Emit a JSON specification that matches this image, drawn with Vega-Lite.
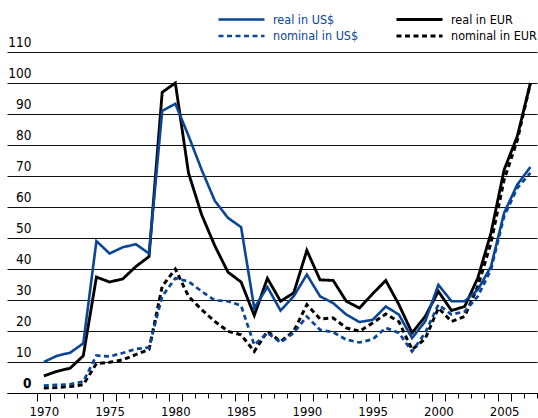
{
  "$schema": "https://vega.github.io/schema/vega-lite/v6.json",
  "width": 530,
  "height": 341,
  "autosize": {"type": "none"},
  "padding": {"left": 7, "top": 52, "right": 1, "bottom": 25},
  "background": "white",
  "config": {"view": {"stroke": null}, "font": "DejaVu Sans Condensed"},
  "data": {"values": [
    {"year":1970,"realUSD":10,"realEUR":5.5,"nomUSD":2.4,"nomEUR":1.6},
    {"year":1971,"realUSD":12,"realEUR":7,"nomUSD":2.6,"nomEUR":1.8},
    {"year":1972,"realUSD":13,"realEUR":8,"nomUSD":2.8,"nomEUR":2.1},
    {"year":1973,"realUSD":16,"realEUR":12,"nomUSD":3.7,"nomEUR":2.7},
    {"year":1974,"realUSD":49,"realEUR":37.4,"nomUSD":12.1,"nomEUR":9.5},
    {"year":1975,"realUSD":45,"realEUR":35.8,"nomUSD":11.8,"nomEUR":9.9},
    {"year":1976,"realUSD":47,"realEUR":36.8,"nomUSD":12.9,"nomEUR":10.7},
    {"year":1977,"realUSD":48,"realEUR":40.8,"nomUSD":14.2,"nomEUR":12.4},
    {"year":1978,"realUSD":45,"realEUR":44,"nomUSD":14.7,"nomEUR":14},
    {"year":1979,"realUSD":91,"realEUR":97,"nomUSD":31.2,"nomEUR":34.4},
    {"year":1980,"realUSD":93.3,"realEUR":100,"nomUSD":37,"nomEUR":40},
    {"year":1981,"realUSD":83,"realEUR":71,"nomUSD":36,"nomEUR":31.2},
    {"year":1982,"realUSD":72,"realEUR":57.5,"nomUSD":32.8,"nomEUR":26.9},
    {"year":1983,"realUSD":62,"realEUR":47.5,"nomUSD":29.9,"nomEUR":23.1},
    {"year":1984,"realUSD":56.5,"realEUR":39,"nomUSD":29.6,"nomEUR":19.9},
    {"year":1985,"realUSD":53.5,"realEUR":35.8,"nomUSD":28.2,"nomEUR":18.8},
    {"year":1986,"realUSD":27.4,"realEUR":25,"nomUSD":15.5,"nomEUR":13.4},
    {"year":1987,"realUSD":34.2,"realEUR":37,"nomUSD":19.4,"nomEUR":19.9},
    {"year":1988,"realUSD":26.6,"realEUR":29.6,"nomUSD":16.3,"nomEUR":16.6},
    {"year":1989,"realUSD":31.2,"realEUR":32.3,"nomUSD":19.4,"nomEUR":19.9},
    {"year":1990,"realUSD":38.2,"realEUR":46,"nomUSD":24.7,"nomEUR":28.5},
    {"year":1991,"realUSD":31.2,"realEUR":36.5,"nomUSD":20.4,"nomEUR":23.9},
    {"year":1992,"realUSD":29,"realEUR":36.3,"nomUSD":19.6,"nomEUR":24.2},
    {"year":1993,"realUSD":25.3,"realEUR":29.6,"nomUSD":17.2,"nomEUR":21},
    {"year":1994,"realUSD":22.9,"realEUR":27.4,"nomUSD":16.3,"nomEUR":19.9},
    {"year":1995,"realUSD":23.6,"realEUR":32,"nomUSD":17.3,"nomEUR":22.6},
    {"year":1996,"realUSD":27.9,"realEUR":36.3,"nomUSD":21,"nomEUR":25.5},
    {"year":1997,"realUSD":25.3,"realEUR":28.5,"nomUSD":19.4,"nomEUR":23},
    {"year":1998,"realUSD":17.7,"realEUR":19.4,"nomUSD":13.4,"nomEUR":14},
    {"year":1999,"realUSD":23.1,"realEUR":24.7,"nomUSD":19.4,"nomEUR":17.5},
    {"year":2000,"realUSD":34.9,"realEUR":32.8,"nomUSD":28.5,"nomEUR":27.4},
    {"year":2001,"realUSD":29.6,"realEUR":26.6,"nomUSD":25.3,"nomEUR":23.1},
    {"year":2002,"realUSD":29.6,"realEUR":27.9,"nomUSD":26.3,"nomEUR":24.7},
    {"year":2003,"realUSD":33.3,"realEUR":37.1,"nomUSD":31.2,"nomEUR":34.4},
    {"year":2004,"realUSD":40.8,"realEUR":51.6,"nomUSD":39.8,"nomEUR":48.4},
    {"year":2005,"realUSD":58.1,"realEUR":72,"nomUSD":57,"nomEUR":68.8},
    {"year":2006,"realUSD":67.2,"realEUR":82.8,"nomUSD":66.1,"nomEUR":81.5},
    {"year":2007,"realUSD":72.9,"realEUR":100,"nomUSD":71,"nomEUR":100}
  ]},
  "transform": [
    {"fold": ["nomEUR", "nomUSD", "realEUR", "realUSD"], "as": ["key", "value"]},
    {"lookup": "key", "from": {"data": {"values": [
      {"key": "realUSD", "series": "real in US$"},
      {"key": "realEUR", "series": "real in EUR"},
      {"key": "nomUSD", "series": "nominal in US$"},
      {"key": "nomEUR", "series": "nominal in EUR"}
    ]}, "key": "key", "fields": ["series"]}}
  ],
  "mark": {"type": "line", "strokeJoin": "miter", "strokeCap": "butt"},
  "encoding": {
    "x": {
      "field": "year", "type": "quantitative",
      "scale": {"domain": [1967.2, 2007.5], "nice": false, "zero": false},
      "axis": {
        "title": null, "grid": false,
        "values": [1969.5,1970.5,1971.5,1972.5,1973.5,1974.5,1975.5,1976.5,1977.5,1978.5,1979.5,1980.5,1981.5,1982.5,1983.5,1984.5,1985.5,1986.5,1987.5,1988.5,1989.5,1990.5,1991.5,1992.5,1993.5,1994.5,1995.5,1996.5,1997.5,1998.5,1999.5,2000.5,2001.5,2002.5,2003.5,2004.5,2005.5,2006.5,2007.5],
        "labelExpr": "(datum.value + 0.5) % 5 === 0 ? '' + (datum.value + 0.5) : ''",
        "labelOffset": 6.6, "labelFlush": false, "labelOverlap": false,
        "labelFont": "DejaVu Sans Condensed", "labelFontSize": 13, "labelColor": "#000",
        "labelPadding": 4,
        "domainColor": "#000", "domainWidth": 1,
        "tickColor": "#000", "tickWidth": 1,
        "tickSize": {"condition": {"test": "(datum.value + 0.5) % 5 === 0 || (datum.value - 0.5) % 5 === 0", "value": 8}, "value": 5}
      }
    },
    "y": {
      "field": "value", "type": "quantitative",
      "scale": {"domain": [0, 110], "nice": false},
      "axis": {
        "title": null, "values": [0,10,20,30,40,50,60,70,80,90,100,110],
        "grid": true, "gridColor": "#111", "gridWidth": 1, "gridOpacity": 1,
        "domain": false, "ticks": false,
        "labelPadding": -24, "labelAlign": "right", "labelBaseline": "alphabetic", "labelOffset": -5.5,
        "labelFont": "DejaVu Sans Condensed", "labelFontSize": 13.5, "labelColor": "#000",
        "labelFontWeight": {"condition": {"test": "datum.value === 0", "value": "bold"}, "value": "normal"}
      }
    },
    "color": {
      "field": "series", "type": "nominal",
      "scale": {"domain": ["real in US$", "nominal in US$", "real in EUR", "nominal in EUR"], "range": ["#0a4596", "#0a4596", "#000000", "#000000"]},
      "legend": {
        "title": null, "orient": "none", "legendX": 227, "legendY": -40,
        "columns": 2, "columnPadding": 31, "rowPadding": 2.5, "padding": 0,
        "symbolType": "M-3.833,0H3.833", "symbolSize": 144, "symbolStrokeWidth": 3,
        "labelFont": "DejaVu Sans Condensed", "labelFontSize": 12.5, "labelOffset": 24, "labelLimit": 200,
        "encode": {"labels": {"update": {"fill": [{"test": "indexof(datum.label, 'US$') >= 0", "value": "#0a4596"}, {"value": "#000000"}]}}}
      }
    },
    "strokeDash": {
      "field": "series", "type": "nominal",
      "scale": {"domain": ["real in US$", "nominal in US$", "real in EUR", "nominal in EUR"], "range": [[1, 0], [5, 3.5], [1, 0], [5, 3.5]]}
    },
    "strokeWidth": {
      "field": "series", "type": "nominal",
      "scale": {"domain": ["real in US$", "nominal in US$", "real in EUR", "nominal in EUR"], "range": [2.6, 3, 2.6, 3]},
      "legend": null
    },
    "order": {"field": "year", "type": "quantitative"}
  }
}
